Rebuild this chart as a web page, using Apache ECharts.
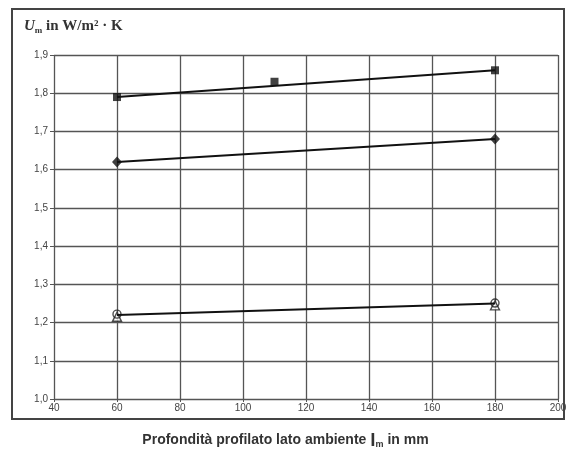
<!DOCTYPE html>
<html>
<head>
<meta charset="utf-8">
<script src="https://cdn.jsdelivr.net/npm/echarts@6/dist/echarts.min.js"></script>
<style>
  html, body { margin: 0; padding: 0; background: #fff; }
  #chart { width: 571px; height: 456px; }
</style>
</head>
<body>
<div id="chart"></div>
<script>
// valori
const squarePts = [[60, 1.79], [110, 1.83], [180, 1.86]]
const squareLine = [[60, 1.79], [180, 1.86]]
const diamondPts = [[60, 1.62], [180, 1.68]]
const trianglePts = [[60, 1.215], [180, 1.245]]
const circlePts = [[60, 1.222], [180, 1.251]]
const lowLine = [[60, 1.22], [180, 1.25]]

const chart = echarts.init(document.getElementById('chart'))

const fmtY = v => v.toFixed(1).replace('.', ',')

const option = {
  animation: false,
  grid: { left: 54, right: 13, top: 55, bottom: 57 },
  xAxis: {
    type: 'value', min: 40, max: 200, interval: 20,
    axisLine: { show: false },
    axisTick: { show: true, length: 3, lineStyle: { color: '#555' } },
    axisLabel: { color: '#444', fontSize: 10, fontFamily: 'Arial', margin: 4 },
    splitLine: { show: true, lineStyle: { color: '#555', width: 1.3 } }
  },
  yAxis: {
    type: 'value', min: 1.0, max: 1.9, interval: 0.1,
    axisLine: { show: false },
    axisTick: { show: true, length: 4, lineStyle: { color: '#555' } },
    axisLabel: { color: '#444', fontSize: 10, fontFamily: 'Arial', margin: 6, formatter: fmtY },
    splitLine: { show: true, lineStyle: { color: '#555', width: 1.3 } }
  },
  series: [
    // linee di tendenza
    { type: 'line', data: squareLine, symbol: 'none', lineStyle: { color: '#111', width: 2 } },
    { type: 'line', data: diamondPts, symbol: 'none', lineStyle: { color: '#111', width: 2 } },
    { type: 'line', data: lowLine, symbol: 'none', lineStyle: { color: '#111', width: 2 } },
    // punti
    { type: 'scatter', data: squarePts, symbol: 'rect', symbolSize: 8, itemStyle: { color: '#111' } },
    { type: 'scatter', data: diamondPts, symbol: 'diamond', symbolSize: [10, 11], itemStyle: { color: '#111' } },
    { type: 'scatter', data: trianglePts, symbol: 'triangle', symbolSize: 9,
      itemStyle: { color: '#fff', borderColor: '#222', borderWidth: 1.4 } },
    { type: 'scatter', data: circlePts, symbol: 'circle', symbolSize: 8,
      itemStyle: { color: 'rgba(255,255,255,0)', borderColor: '#222', borderWidth: 1.4 } }
  ],
  graphic: [
    {
      type: 'rect', shape: { x: 12, y: 9, width: 552, height: 410 },
      style: { fill: 'none', stroke: '#444', lineWidth: 2 }, z: 10
    },
    {
      type: 'text', left: 24, top: 19,
      style: {
        text: '{u|U}{s|m}{t| in W/m² · K}',
        rich: {
          u: { fontFamily: 'Liberation Serif', fontStyle: 'italic', fontWeight: 'bold', fontSize: 15, fill: '#333' },
          s: { fontFamily: 'Liberation Serif', fontWeight: 'bold', fontSize: 9, fill: '#333', padding: [9, 0, 0, 0] },
          t: { fontFamily: 'Liberation Serif', fontWeight: 'bold', fontSize: 15, fill: '#333' }
        }
      }
    },
    {
      type: 'text', left: 'center', top: 431,
      style: {
        text: '{a|Profondità profilato lato ambiente }{b|l}{c|m}{a| in mm}',
        rich: {
          a: { fontFamily: 'Arial', fontWeight: 'bold', fontSize: 14, fill: '#333' },
          b: { fontFamily: 'Arial', fontWeight: 'bold', fontSize: 19, fill: '#333' },
          c: { fontFamily: 'Arial', fontWeight: 'bold', fontSize: 9, fill: '#333', padding: [9, 0, 0, 0] }
        }
      }
    }
  ]
}

chart.setOption(option)
</script>
</body>
</html>
